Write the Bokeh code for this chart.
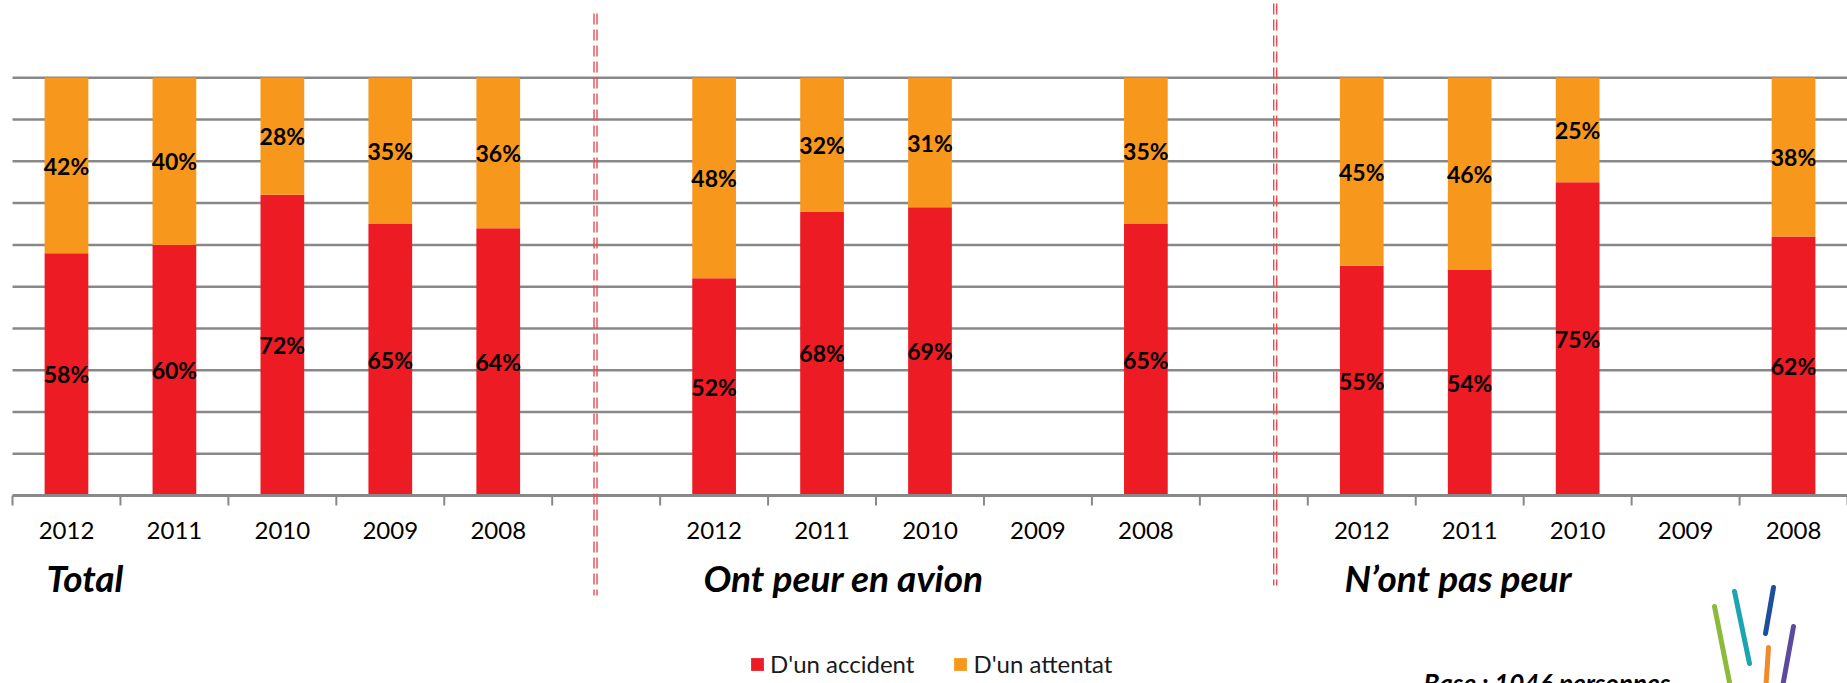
from bokeh.plotting import figure
from bokeh.models import (Range1d, Grid, ColumnDataSource, Label,
                          Legend, LegendItem)
from bokeh.embed import file_html
from bokeh.resources import INLINE
from bokeh.core.properties import value

# ---------------- data ----------------
groups = ["Total", "Ont peur en avion", "N\u2019ont pas peur"]
years = ["2012", "2011", "2010", "2009", "2008"]
series = ["D'un accident", "D'un attentat"]
colors = ["#ED1C24", "#F7981D"]

accident_total = [58, 60, 72, 65, 64]
attentat_total = [42, 40, 28, 35, 36]
accident_peur = [52, 68, 69, None, 65]
attentat_peur = [48, 32, 31, None, 35]
accident_pas_peur = [55, 54, 75, None, 62]
attentat_pas_peur = [45, 46, 25, None, 38]

grid_values = [10, 20, 30, 40, 50, 60, 70, 80, 90, 100]
base_note = "Base : 1046 personnes"

accident_groups = [accident_total, accident_peur, accident_pas_peur]
attentat_groups = [attentat_total, attentat_peur, attentat_pas_peur]

# ---------------- layout constants (pixels) ----------------
W, H = 1847, 683
LEFT = 12          # left edge of the plotting area
AXIS_Y = 495       # pixel row of the value 0
TOP_Y = 77.3       # pixel row of the value 100
FONT = "Lato"
GRAY = "#888888"

slots_per_group = len(years) + 1
n_slots = slots_per_group * len(groups) - 1
slot_px = (W - LEFT) / n_slots
ppu = (AXIS_Y - TOP_Y) / 100.0


def dx(px):
    return (px - LEFT) / slot_px


def dy(py):
    return (AXIS_Y - py) / ppu


xs, acc, att = [], [], []
tick_centers, tick_labels = [], []
for g in range(len(groups)):
    for j, yr in enumerate(years):
        xc = g * slots_per_group + j + 0.5
        tick_centers.append(xc)
        tick_labels.append(yr)
        a = accident_groups[g][j]
        b = attentat_groups[g][j]
        if a is None:
            continue
        xs.append(xc)
        acc.append(a)
        att.append(b)

src = ColumnDataSource(dict(
    x=xs, acc=acc, att=att,
    acc_y=[a / 2 for a in acc],
    att_y=[a + b / 2 for a, b in zip(acc, att)],
    acc_t=["%d%%" % a for a in acc],
    att_t=["%d%%" % b for b in att],
))

p = figure(width=W, height=H, output_backend="svg", toolbar_location=None,
           x_range=Range1d(dx(0), n_slots), y_range=Range1d(dy(H), dy(0)),
           x_axis_location=None, y_axis_location=None,
           min_border_left=0, min_border_right=0, min_border_top=0,
           min_border_bottom=0)
p.outline_line_color = None
p.background_fill_color = "white"
p.border_fill_color = "white"
p.center = [r for r in p.center if not isinstance(r, Grid)]

# horizontal grid lines
p.segment(x0=0, x1=n_slots, y0=grid_values, y1=grid_values,
          line_color=GRAY, line_width=2.5)

# stacked bars
rs = p.vbar_stack(["acc", "att"], x="x", width=0.405, source=src,
                  color=colors, line_color=None)

# category axis (line, boundary ticks, year labels)
bounds = list(range(0, n_slots + 1))
p.segment(x0=bounds, x1=bounds, y0=0, y1=dy(AXIS_Y + 10),
          line_color=GRAY, line_width=2)
p.segment(x0=0, x1=n_slots, y0=0, y1=0, line_color=GRAY, line_width=3)
p.text(x=tick_centers, y=[dy(530)] * len(tick_centers), text=tick_labels,
       text_align="center", text_baseline="middle",
       text_font=value(FONT), text_font_size="24px", text_color="black")

# value labels
for ycol, tcol in (("acc_y", "acc_t"), ("att_y", "att_t")):
    p.text(x="x", y=ycol, text=tcol, source=src, text_align="center",
           text_baseline="middle", text_font=value(FONT),
           text_font_size="23px", text_font_style="bold", text_color="black")

# group titles
for txt, px in zip(groups, [46, 703, 1344]):
    p.add_layout(Label(x=dx(px), y=dy(577), text=txt, text_font=FONT,
                       text_font_size="37px", text_font_style="bold italic",
                       text_color="black", text_baseline="middle"))

# dividers (double dashed lines)
div_x = [dx(593.5), dx(596.5), dx(1273.2), dx(1276.2)]
div_top = [dy(13), dy(13), dy(3), dy(3)]
div_bot = [dy(595), dy(595), dy(585), dy(585)]
p.segment(x0=div_x, x1=div_x, y0=div_top, y1=div_bot,
          line_color="#EC4A4F", line_width=1.4, line_dash="11 5")

# logo strokes
logo_x = [[dx(1714), dx(1731)], [dx(1734), dx(1749)], [dx(1773), dx(1765)],
          [dx(1768), dx(1765)], [dx(1793), dx(1781)]]
logo_y = [[dy(606), dy(692)], [dy(591), dy(663)], [dy(587), dy(633)],
          [dy(647), dy(692)], [dy(626), dy(692)]]
logo_c = ["#8CBA3C", "#1AA5B0", "#1C4F9C", "#F08A2C", "#5B4A9E"]
p.multi_line(xs=logo_x, ys=logo_y, line_color=logo_c, line_width=5,
             line_cap="round")

# partially visible footnote (cut by the bottom edge, as in the original)
p.add_layout(Label(x=dx(1423), y=dy(682), text=base_note, text_font=FONT,
                   text_font_size="26px", text_font_style="bold italic",
                   text_color="black", text_baseline="middle"))

legend = Legend(items=[LegendItem(label=value(series[0]), renderers=[rs[0]]),
                       LegendItem(label=value(series[1]), renderers=[rs[1]])],
                orientation="horizontal", location=(749, 5),
                glyph_width=16, glyph_height=16, label_standoff=5, spacing=38,
                padding=0, margin=0, border_line_color=None,
                background_fill_alpha=0, label_text_font=FONT,
                label_text_font_size="24px", label_text_color="#1a1a1a")
p.add_layout(legend)

open("out.html", "w").write(file_html(p, INLINE))
